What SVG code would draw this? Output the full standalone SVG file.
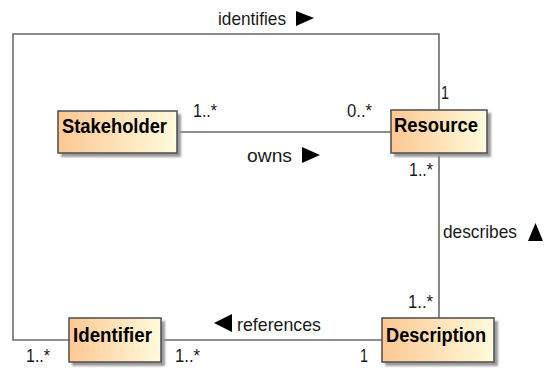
<svg xmlns="http://www.w3.org/2000/svg" width="548" height="370" viewBox="0 0 548 370">
  <defs>
    <linearGradient id="classFill" x1="0" y1="0" x2="1" y2="0">
      <stop offset="0" stop-color="#fdc893"/>
      <stop offset="1" stop-color="#fffbdc"/>
    </linearGradient>
    <filter id="shadowBlur" x="-10%" y="-10%" width="130%" height="140%">
      <feGaussianBlur stdDeviation="1.2"/>
    </filter>
    <style>
      .box { fill: url(#classFill); stroke: #555555; stroke-width: 1.6; }
      .shadow { fill: #9a9a9a; filter: url(#shadowBlur); }
      .name { font-family: "Liberation Sans", Arial, sans-serif; font-weight: bold; font-size: 20px; fill: #000000; }
      .edge { fill: none; stroke: #6a6a6a; stroke-width: 1.6; }
      .label { font-family: "Liberation Sans", Arial, sans-serif; font-size: 19px; fill: #1a1a1a; }
      .mult { font-family: "Liberation Sans", Arial, sans-serif; font-size: 18px; fill: #1a1a1a; }
      .dir { fill: #000000; }
    </style>
  </defs>

  <!-- associations -->
  <g id="connectors">
    <path class="edge" d="M69,340 H13 V34 H439 V110"/>
    <path class="edge" d="M177,132 H391"/>
    <path class="edge" d="M439,153 V318"/>
    <path class="edge" d="M161,340 H382"/>

    <text class="label" x="218" y="25" textLength="68" lengthAdjust="spacingAndGlyphs">identifies</text>
    <polygon class="dir" points="296,11 314,18 296,26"/>

    <text class="label" x="247" y="162" textLength="45" lengthAdjust="spacingAndGlyphs">owns</text>
    <polygon class="dir" points="302,147 320,155 302,163"/>

    <text class="label" x="443" y="238" textLength="74" lengthAdjust="spacingAndGlyphs">describes</text>
    <polygon class="dir" points="528,241 535.5,223 543,241"/>

    <polygon class="dir" points="232,314 214,323 232,332"/>
    <text class="label" x="237" y="331" textLength="84" lengthAdjust="spacingAndGlyphs">references</text>

    <text class="mult" x="193" y="117" textLength="24" lengthAdjust="spacingAndGlyphs">1..*</text>
    <text class="mult" x="347" y="117" textLength="25" lengthAdjust="spacingAndGlyphs">0..*</text>
    <text class="mult" x="441" y="99" textLength="8" lengthAdjust="spacingAndGlyphs">1</text>
    <text class="mult" x="409" y="176" textLength="24" lengthAdjust="spacingAndGlyphs">1..*</text>
    <text class="mult" x="408" y="308" textLength="25" lengthAdjust="spacingAndGlyphs">1..*</text>
    <text class="mult" x="360" y="362" textLength="8" lengthAdjust="spacingAndGlyphs">1</text>
    <text class="mult" x="26" y="362" textLength="24" lengthAdjust="spacingAndGlyphs">1..*</text>
    <text class="mult" x="175" y="362" textLength="25" lengthAdjust="spacingAndGlyphs">1..*</text>
  </g>

  <!-- classes -->
  <g id="stakeholder">
    <rect class="shadow" x="61" y="114" width="120" height="43"/>
    <rect class="box" x="58" y="111" width="119" height="42"/>
    <text class="name" x="62" y="133" textLength="105" lengthAdjust="spacingAndGlyphs">Stakeholder</text>
  </g>

  <g id="resource">
    <rect class="shadow" x="394" y="113" width="97" height="44"/>
    <rect class="box" x="391" y="110" width="96" height="43"/>
    <text class="name" x="394" y="132" textLength="84" lengthAdjust="spacingAndGlyphs">Resource</text>
  </g>

  <g id="identifier">
    <rect class="shadow" x="72" y="321" width="93" height="45"/>
    <rect class="box" x="69" y="318" width="92" height="44"/>
    <text class="name" x="73" y="342" textLength="79" lengthAdjust="spacingAndGlyphs">Identifier</text>
  </g>

  <g id="description">
    <rect class="shadow" x="385" y="321" width="113" height="45"/>
    <rect class="box" x="382" y="318" width="112" height="44"/>
    <text class="name" x="386" y="342" textLength="100" lengthAdjust="spacingAndGlyphs">Description</text>
  </g>
</svg>
